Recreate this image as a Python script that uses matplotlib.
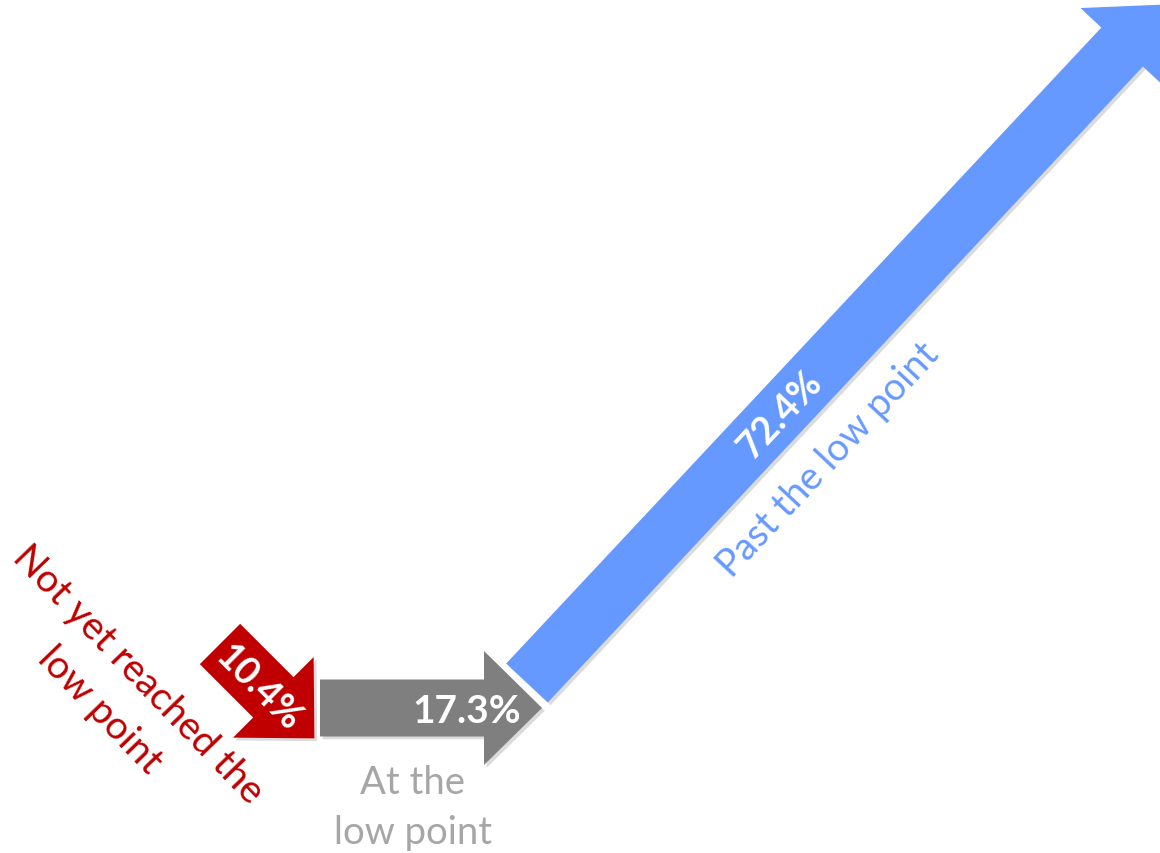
import numpy as np
import matplotlib.pyplot as plt
from matplotlib.patches import Polygon
import matplotlib.patheffects as pe

plt.rcParams['font.family'] = ['Lato', 'DejaVu Sans']

# Share of cases in each phase
labels = ['Not yet reached the\nlow point', 'At the\nlow point', 'Past the low point']
values = [10.4, 17.3, 72.4]
value_text = ['10.4%', '17.3%', '72.4%']
colors = ['#C00000', '#7F7F7F', '#6699FF']
label_colors = ['#C00000', '#A6A6A6', '#6699FF']

# Arrow direction (degrees, counter-clockwise on screen) and tail centre in pixels
angles = [-45, 0, 46.9]
tails = [(220, 645), (320, 709), (527, 684)]

px_per_pct = 222 / 17.3
body_w = 57
head_w = 114
head_l = 58

fig = plt.figure(figsize=(11.6, 8.54), dpi=100)
ax = fig.add_axes([0, 0, 1, 1])
ax.set_xlim(0, 1160)
ax.set_ylim(854, 0)
ax.axis('off')


def arrow_points(tail, angle, length):
    a = np.radians(angle)
    u = np.array([np.cos(a), -np.sin(a)])
    n = np.array([np.sin(a), np.cos(a)])
    t = np.array(tail, dtype=float)
    neck = t + u * (length - head_l)
    return [t + n * body_w / 2, neck + n * body_w / 2, neck + n * head_w / 2,
            t + u * length,
            neck - n * head_w / 2, neck - n * body_w / 2, t - n * body_w / 2]


shadow = [pe.SimplePatchShadow(offset=(2, -2), shadow_rgbFace='#000000', alpha=0.14),
          pe.Normal()]

for v, ang, tail, c in zip(values, angles, tails, colors):
    poly = Polygon(arrow_points(tail, ang, v * px_per_pct), closed=True,
                   facecolor=c, edgecolor='none')
    poly.set_path_effects(shadow)
    ax.add_patch(poly)

# values written on the arrows
ax.text(258, 688, value_text[0], rotation=-45, rotation_mode='anchor',
        ha='center', va='center', color='white', fontsize=27, fontweight='bold')
ax.text(521, 712, value_text[1], ha='right', va='center',
        color='white', fontsize=28, fontweight='bold')
ax.text(780, 415, value_text[2], rotation=46.9, rotation_mode='anchor',
        ha='center', va='center', color='white', fontsize=27, fontweight='bold')

# phase labels; the diagonal red one is set line by line
for line, (x, y) in zip(labels[0].split('\n'), [(138, 675), (100, 710)]):
    ax.text(x, y, line, rotation=-46, rotation_mode='anchor',
            ha='center', va='center', color=label_colors[0], fontsize=28)
ax.text(413, 808, labels[1], ha='center', va='center', multialignment='center',
        color=label_colors[1], fontsize=27.5, linespacing=1.5)
ax.text(828, 460, labels[2], rotation=46.9, rotation_mode='anchor',
        ha='center', va='center', color=label_colors[2], fontsize=27.5)

fig.savefig('out.png', dpi=100)
